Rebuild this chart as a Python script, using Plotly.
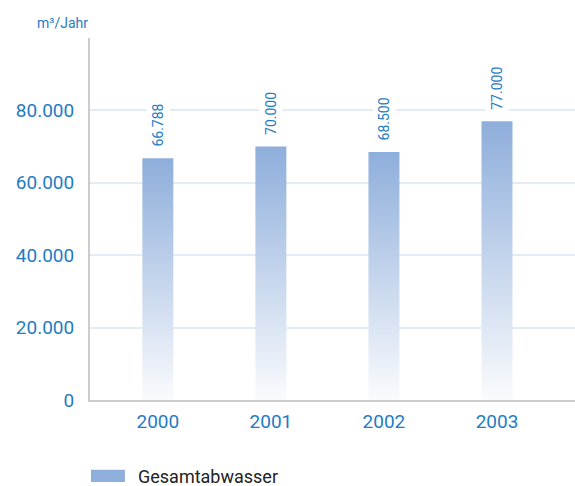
import plotly.graph_objects as go

years = ["2000", "2001", "2002", "2003"]
values = [66788, 70000, 68500, 77000]
value_labels = ["66.788", "70.000", "68.500", "77.000"]
y_ticks = [0, 20000, 40000, 60000, 80000]
y_tick_labels = ["0", "20.000", "40.000", "60.000", "80.000"]
series_name = "Gesamtabwasser"
unit_label = "m³/Jahr"

BLUE_TEXT = "#1f7cc2"
BAR_TOP = "#8eaedb"
BAR_BOTTOM = "#fafbfd"
BAR_W = 0.274

fig = go.Figure()

for i, (yr, v) in enumerate(zip(years, values)):
    x0, x1 = i - BAR_W / 2, i + BAR_W / 2
    fig.add_trace(go.Scatter(
        x=[x0, x1, x1, x0, x0],
        y=[0, 0, v, v, 0],
        mode="none",
        fill="toself",
        fillgradient=dict(type="vertical",
                          colorscale=[[0, BAR_BOTTOM], [1, BAR_TOP]]),
        showlegend=False,
        hoverinfo="skip",
    ))
    fig.add_annotation(
        x=i, y=v, xref="x", yref="y",
        text=value_labels[i], textangle=-90,
        showarrow=False, xanchor="center", yanchor="bottom",
        yshift=8, bgcolor="white", borderpad=3,
        font=dict(family="Roboto", size=14, color=BLUE_TEXT),
    )

# unit label
fig.add_annotation(
    x=0, y=1, xref="paper", yref="paper", text=unit_label,
    showarrow=False, xanchor="right", yanchor="bottom", yshift=5,
    font=dict(family="Roboto", size=14, color=BLUE_TEXT),
)

# manual legend
fig.add_shape(type="rect", xref="paper", yref="paper",
              x0=0.002, x1=0.072, y0=-0.2265, y1=-0.193,
              fillcolor=BAR_TOP, line=dict(width=0))
fig.add_annotation(
    x=0.095, y=-0.211, xref="paper", yref="paper", text=series_name,
    showarrow=False, xanchor="left", yanchor="middle",
    font=dict(family="Roboto", size=18, color="#222222"),
)

fig.update_layout(
    width=575, height=486,
    margin=dict(l=90, r=0, t=38, b=86),
    paper_bgcolor="white", plot_bgcolor="white",
    font=dict(family="Roboto", color=BLUE_TEXT),
    showlegend=False,
    xaxis=dict(
        range=[-0.6, 3.69],
        tickvals=list(range(len(years))), ticktext=years,
        showgrid=False, zeroline=False,
        showline=True, linecolor="#cccccc", linewidth=2,
        ticks="", ticklabelstandoff=3,
        tickfont=dict(family="Roboto", size=19, color=BLUE_TEXT),
    ),
    yaxis=dict(
        range=[0, 100000],
        tickvals=y_ticks, ticktext=y_tick_labels,
        showgrid=True, gridcolor="#e5eaf5", gridwidth=2,
        zeroline=False,
        showline=True, linecolor="#cccccc", linewidth=2,
        ticks="", ticklabelstandoff=10,
        tickfont=dict(family="Roboto", size=19, color=BLUE_TEXT),
    ),
)

fig.write_html(
    "out.html",
    config={"displayModeBar": False},
    post_script="document.body.style.margin='0';document.body.style.overflow='hidden';",
)
